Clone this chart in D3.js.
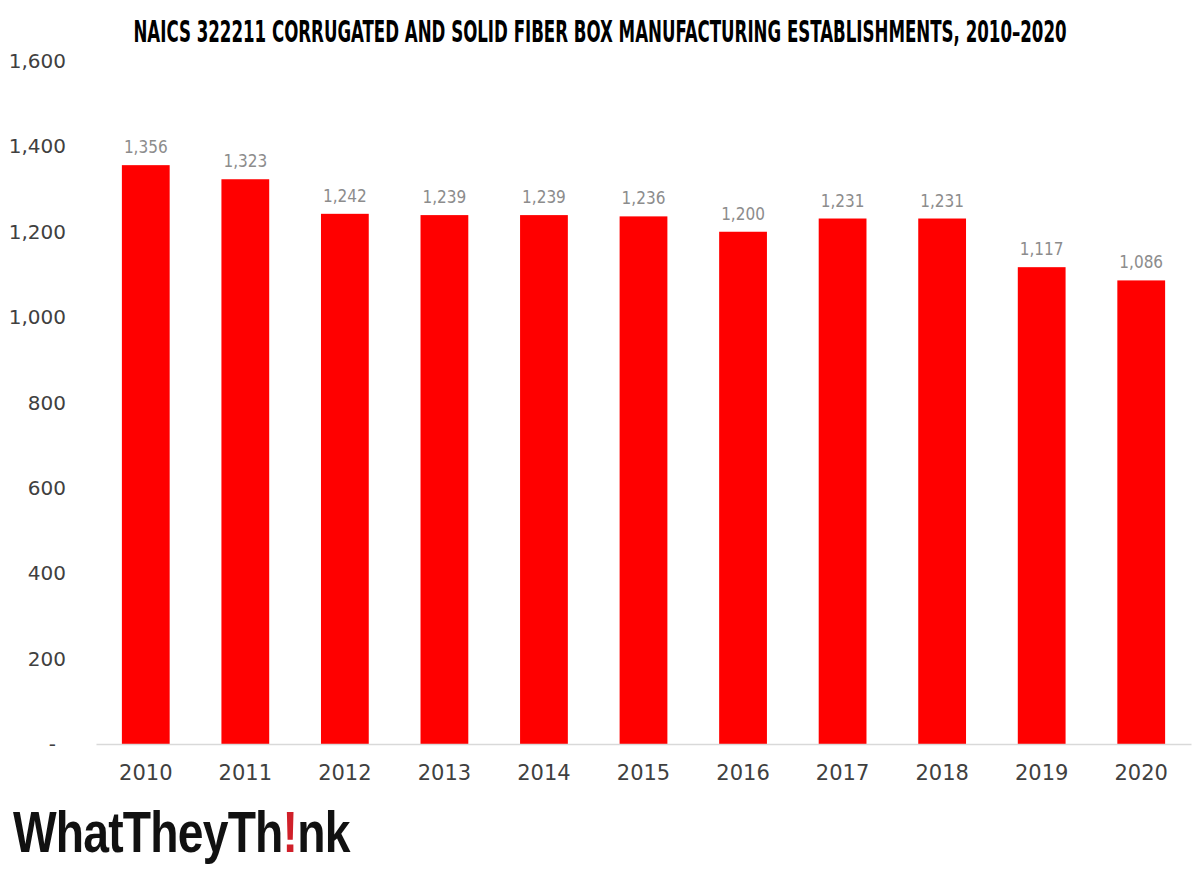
<!DOCTYPE html>
<html>
<head>
<meta charset="utf-8">
<script src="https://cdn.jsdelivr.net/npm/d3@7"></script>
<style>
  body { margin: 0; background: #fff; }
</style>
</head>
<body>
<div id="vis"></div>
<script>
// data
let years = ['2010', '2011', '2012', '2013', '2014', '2015', '2016', '2017', '2018', '2019', '2020']
let establishments = [1356, 1323, 1242, 1239, 1239, 1236, 1200, 1231, 1231, 1117, 1086]
let yTicks = [0, 200, 400, 600, 800, 1000, 1200, 1400, 1600]

let width = 1200,
  height = 872

let svg = d3.select('#vis')
  .append('svg')
  .attr('width', width)
  .attr('height', height)

let data = years.map((y, i) => ({ year: y, value: establishments[i] }))

// scales
let xScale = d3.scaleBand()
  .domain(years)
  .range([96, 1191])
  .paddingInner(0.52)
  .paddingOuter(0.26)

let yScale = d3.scaleLinear()
  .domain([0, 1600])
  .range([744, 61])

// title - condensed font stretched vertically
let title = svg.append('text')
  .attr('transform', 'translate(600,42) scale(1,1.65)')
  .attr('text-anchor', 'middle')
  .style('font-family', '"Liberation Sans Narrow", "DejaVu Sans Condensed", sans-serif')
  .style('font-weight', 'bold')
  .style('font-size', '22px')
  .style('fill', '#000')
  .text('NAICS 322211 CORRUGATED AND SOLID FIBER BOX MANUFACTURING ESTABLISHMENTS, 2010–2020')
// fit to the reference width
let tw = title.node().getComputedTextLength()
title.style('font-size', (22 * 933 / tw) + 'px')

// y axis labels (no line)
svg.append('g')
  .selectAll('text')
  .data(yTicks)
  .enter()
  .append('text')
  .attr('x', d => d === 0 ? 56 : 66)
  .attr('y', d => yScale(d))
  .attr('dy', '0.35em')
  .attr('text-anchor', 'end')
  .style('font-family', '"DejaVu Sans", sans-serif')
  .style('font-size', '20px')
  .style('fill', '#404040')
  .text(d => d === 0 ? '-' : d3.format(',')(d))

// bars
svg.append('g')
  .selectAll('rect')
  .data(data)
  .enter()
  .append('rect')
  .attr('x', d => xScale(d.year))
  .attr('y', d => yScale(d.value))
  .attr('width', xScale.bandwidth())
  .attr('height', d => yScale(0) - yScale(d.value))
  .attr('fill', '#ff0000')

// value labels
svg.append('g')
  .selectAll('text')
  .data(data)
  .enter()
  .append('text')
  .attr('x', d => xScale(d.year) + xScale.bandwidth() / 2)
  .attr('y', d => yScale(d.value) - 12)
  .attr('text-anchor', 'middle')
  .style('font-family', '"Liberation Sans Narrow", "DejaVu Sans Condensed", sans-serif')
  .style('font-size', '17px')
  .style('fill', '#8c8c8c')
  .text(d => d3.format(',')(d.value))

// x axis
let xAxis = svg.append('g')
  .attr('transform', 'translate(0,' + yScale(0) + ')')
  .call(d3.axisBottom(xScale).tickSize(0).tickPadding(21))
xAxis.select('.domain').attr('stroke', '#d9d9d9').attr('stroke-width', 1.5)
xAxis.selectAll('text')
  .style('font-family', '"DejaVu Sans", sans-serif')
  .style('font-size', '21px')
  .style('fill', '#404040')

// logo
let logo = svg.append('text')
  .attr('transform', 'translate(13,852)')
  .style('font-family', '"Liberation Sans", Arial, sans-serif')
  .style('font-weight', 'bold')
  .style('font-size', '58px')
  .style('letter-spacing', '-1px')
  .style('fill', '#111')
logo.append('tspan').text('WhatTheyTh')
logo.append('tspan').style('fill', '#d0202a').text('!')
logo.append('tspan').text('nk')
let lw = logo.node().getBBox().width
logo.attr('transform', 'translate(13,852) scale(' + (338 / lw) + ',1)')
</script>
</body>
</html>
